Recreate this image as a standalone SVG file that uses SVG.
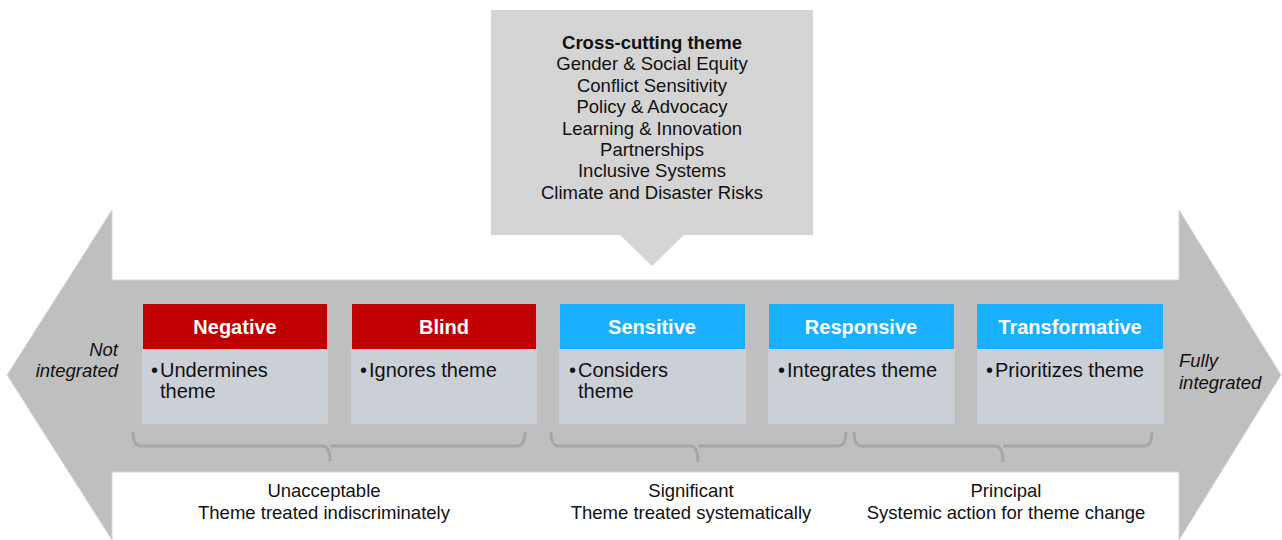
<svg xmlns="http://www.w3.org/2000/svg" width="1282" height="540" viewBox="0 0 1282 540">
<style>
text{font-family:"Liberation Sans",Arial,sans-serif;}
.hdr{font-size:20px;font-weight:bold;fill:#ffffff;text-anchor:middle;}
.body{font-size:20px;fill:#111111;}
.neg{fill:#C00000;}
.pos{fill:#1AB0FF;}
.bx{fill:#CBCFD6;}
.call{font-size:18.5px;fill:#111111;text-anchor:middle;}
.lbl{font-size:18.5px;fill:#111111;text-anchor:middle;}
.side{font-size:18.5px;font-style:italic;fill:#111111;}
.brace{fill:none;stroke:#A6A6A6;stroke-width:3;stroke-linejoin:round;}
</style>
<rect width="1282" height="540" fill="#ffffff"/>
<g id="arrow">
<polygon points="7,375 112,210 112,280 1179,280 1179,210 1281,375 1179,540 1179,472 112,472 112,540" fill="#BFBFBF" stroke="#D6D6D6" stroke-width="1"/>
<text class="side" x="118" y="356" text-anchor="end">Not</text>
<text class="side" x="118" y="377" text-anchor="end">integrated</text>
<text class="side" x="1179" y="367">Fully</text>
<text class="side" x="1179" y="389">integrated</text>
</g>
<g id="callout">
<polygon points="491,10 813,10 813,235 684,235 652,266 620,235 491,235" fill="#D4D4D4"/>
<text class="call" x="652" y="49" font-weight="bold">Cross-cutting theme</text>
<text class="call" x="652" y="70">Gender &amp; Social Equity</text>
<text class="call" x="652" y="92">Conflict Sensitivity</text>
<text class="call" x="652" y="113">Policy &amp; Advocacy</text>
<text class="call" x="652" y="135">Learning &amp; Innovation</text>
<text class="call" x="652" y="156">Partnerships</text>
<text class="call" x="652" y="177">Inclusive Systems</text>
<text class="call" x="652" y="199">Climate and Disaster Risks</text>
</g>
<g id="negative">
<rect class="bx" x="142" y="349" width="186" height="75"/>
<rect class="neg" x="143" y="304" width="184" height="45"/>
<text class="hdr" x="235" y="334">Negative</text>
<text class="body" x="151" y="377">•</text>
<text class="body" x="160" y="377">Undermines</text>
<text class="body" x="160" y="398">theme</text>
</g>
<g id="blind">
<rect class="bx" x="351" y="349" width="186" height="75"/>
<rect class="neg" x="352" y="304" width="184" height="45"/>
<text class="hdr" x="444" y="334">Blind</text>
<text class="body" x="360" y="377">•</text>
<text class="body" x="369" y="377">Ignores theme</text>
</g>
<g id="sensitive">
<rect class="bx" x="559" y="349" width="187" height="75"/>
<rect class="pos" x="560" y="304" width="185" height="45"/>
<text class="hdr" x="652" y="334">Sensitive</text>
<text class="body" x="569" y="377">•</text>
<text class="body" x="578" y="377">Considers</text>
<text class="body" x="578" y="398">theme</text>
</g>
<g id="responsive">
<rect class="bx" x="768" y="349" width="187" height="75"/>
<rect class="pos" x="769" y="304" width="185" height="45"/>
<text class="hdr" x="861" y="334">Responsive</text>
<text class="body" x="778" y="377">•</text>
<text class="body" x="787" y="377">Integrates theme</text>
</g>
<g id="transformative">
<rect class="bx" x="977" y="349" width="187" height="75"/>
<rect class="pos" x="977" y="304" width="186" height="45"/>
<text class="hdr" x="1070" y="334">Transformative</text>
<text class="body" x="986" y="377">•</text>
<text class="body" x="995" y="377">Prioritizes theme</text>
</g>
<g id="connectors">
<path class="brace" d="M133,432 Q133,446 141,446 L322,446 Q330,446 330,461 M330,446 L517,446 Q525,446 525,432"/>
<path class="brace" d="M551,432 Q551,446 559,446 L690,446 Q698,446 698,462 M698,446 L838,446 Q846,446 846,432"/>
<path class="brace" d="M854,432 Q854,446 862,446 L995,446 Q1003,446 1003,462 M1003,446 L1144,446 Q1152,446 1152,432"/>
</g>
<g id="bands">
<text class="lbl" x="324" y="497">Unacceptable</text>
<text class="lbl" x="324" y="519">Theme treated indiscriminately</text>
<text class="lbl" x="691" y="497">Significant</text>
<text class="lbl" x="691" y="519">Theme treated systematically</text>
<text class="lbl" x="1006" y="497">Principal</text>
<text class="lbl" x="1006" y="519">Systemic action for theme change</text>
</g>
</svg>
